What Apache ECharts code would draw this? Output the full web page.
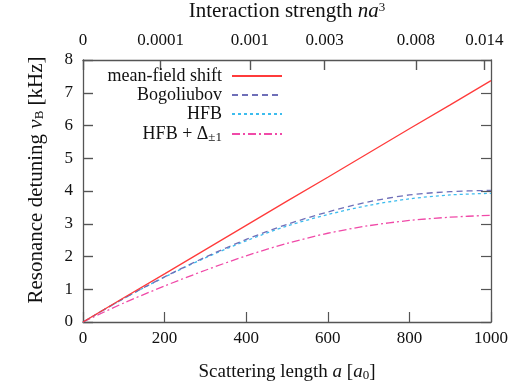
<!DOCTYPE html>
<html>
<head>
<meta charset="utf-8">
<script src="https://cdn.jsdelivr.net/npm/echarts@6/dist/echarts.min.js"></script>
<style>
  html, body { margin: 0; padding: 0; background: #fff; }
  #main { width: 522px; height: 382px; }
</style>
</head>
<body>
<div id="main"></div>
<script>
// scattering length a [a0]
const scatLen = [0, 100, 200, 300, 400, 500, 600, 700, 800, 900, 1000];
const meanField = [0, 0.74, 1.47, 2.21, 2.95, 3.69, 4.42, 5.16, 5.90, 6.63, 7.37];
const bogoliubov = [0, 0.72, 1.38, 1.98, 2.52, 2.98, 3.36, 3.67, 3.88, 3.98, 4.02];
const hfb = [0, 0.72, 1.37, 1.96, 2.48, 2.93, 3.28, 3.56, 3.76, 3.88, 3.93];
const hfbDelta = [0, 0.58, 1.10, 1.58, 2.02, 2.40, 2.71, 2.94, 3.10, 3.20, 3.26];

// top axis: positions (in a) of the na^3 labels
const topTickPos = [0, 190, 409, 592, 816, 984];
const topTickLabels = ['0', '0.0001', '0.001', '0.003', '0.008', '0.014'];

const names = ['mean-field shift', 'Bogoliubov', 'HFB', 'HFB + Δ±1'];
const colors = ['#ff3b3b', '#6f6fb8', '#3cbcee', '#f04aa8'];
const dashes = ['solid', [6, 4], [3, 3], [8, 3, 2, 3]];
const values = [meanField, bogoliubov, hfb, hfbDelta];

const FONT = 'Liberation Serif';
const FS = 17;
const axisColor = '#555';

let makeRich = function (size) {
    return {
        a: { fontFamily: FONT, fontSize: size, color: '#111' },
        i: { fontFamily: FONT, fontSize: size, fontStyle: 'italic', color: '#111' },
        s: { fontFamily: FONT, fontSize: 13, color: '#111', padding: [7, 0, 0, 0] },
        p: { fontFamily: FONT, fontSize: 13, color: '#111', padding: [0, 0, 8, 0] }
    };
};
let legendRich = {
    a: { fontFamily: FONT, fontSize: 18, color: '#111', padding: [0, 5, 0, 0] },
    b: { fontFamily: FONT, fontSize: 18, color: '#111' },
    s: { fontFamily: FONT, fontSize: 13, color: '#111', padding: [7, 5, 0, 0] }
};

let chart = echarts.init(document.getElementById('main'));

let series = [];
for (let k = 0; k < values.length; k++) {
    let pts = [];
    for (let j = 0; j < scatLen.length; j++) {
        pts.push([scatLen[j], values[k][j]]);
    }
    series.push({
        name: names[k],
        type: 'line',
        data: pts,
        smooth: k === 0 ? false : 0.3,
        symbol: 'none',
        lineStyle: { color: colors[k], width: 1.3, type: dashes[k] },
        itemStyle: { color: colors[k] },
        z: 10 - k
    });
}

// one legend per entry so the line samples line up on the right
let legendTops = [67, 86, 105, 125];
let legends = [];
for (let k = 0; k < names.length; k++) {
    legends.push({
        data: [names[k]],
        right: 239,
        top: legendTops[k],
        align: 'right',
        orient: 'vertical',
        itemWidth: 50,
        itemHeight: 14,
        padding: 0,
        selectedMode: false,
        itemStyle: { opacity: 0 },
        formatter: function (n) {
            if (n === 'HFB + Δ±1') return '{b|HFB + Δ}{s|±1}';
            return '{a|' + n + '}';
        },
        textStyle: { rich: legendRich }
    });
}

let plainNum = function (v) { return String(v); };
// fresh objects per axis
let tickStyle = function () {
    return { show: true, inside: true, length: 10, lineStyle: { color: axisColor, width: 1.2 } };
};
let lineStyle = function () {
    return { show: true, onZero: false, lineStyle: { color: axisColor, width: 1.3 } };
};

let topTick = tickStyle();
topTick.customValues = topTickPos;
let topTick2 = tickStyle();
topTick2.customValues = topTickPos;

let rect = { left: 83, right: 31, top: 60, bottom: 60, outerBoundsMode: 'none' };

chart.setOption({
    animation: false,
    backgroundColor: '#fff',
    grid: [Object.assign({}, rect), Object.assign({}, rect)],
    legend: legends,
    xAxis: [
        {
            type: 'value',
            gridIndex: 0,
            position: 'bottom',
            min: 0,
            max: 1000,
            interval: 200,
            name: '{a|Scattering length }{i|a}{a| [}{i|a}{s|0}{a|]}',
            nameLocation: 'middle',
            nameGap: 40,
            nameTextStyle: { rich: makeRich(19) },
            axisLine: lineStyle(),
            axisTick: tickStyle(),
            axisLabel: { fontFamily: FONT, fontSize: FS, color: '#111', margin: 8, formatter: plainNum },
            splitLine: { show: false }
        },
        {
            type: 'value',
            gridIndex: 0,
            position: 'top',
            min: 0,
            max: 1000,
            name: '{a|Interaction strength }{i|na}{p|3}',
            nameLocation: 'middle',
            nameGap: 38,
            nameTextStyle: { rich: makeRich(21) },
            axisLine: lineStyle(),
            axisTick: topTick,
            axisLabel: {
                fontFamily: FONT, fontSize: FS, color: '#111', margin: 11,
                customValues: topTickPos,
                formatter: function (v) {
                    let idx = topTickPos.indexOf(v);
                    return idx >= 0 ? topTickLabels[idx] : '';
                }
            },
            splitLine: { show: false }
        },
        // overlay grid: ticks only
        {
            type: 'value',
            gridIndex: 1,
            position: 'top',
            min: 0,
            max: 1000,
            axisLine: { show: false, onZero: false },
            axisTick: topTick2,
            axisLabel: { show: false },
            splitLine: { show: false }
        }
    ],
    yAxis: [
        {
            type: 'value',
            gridIndex: 0,
            position: 'left',
            min: 0,
            max: 8,
            interval: 1,
            name: '{a|Resonance detuning }{i|ν}{s|B}{a| [kHz]}',
            nameLocation: 'middle',
            nameGap: 36,
            nameTextStyle: { rich: makeRich(21), padding: [0, 0, 0, 22] },
            axisLine: lineStyle(),
            axisTick: tickStyle(),
            axisLabel: { fontFamily: FONT, fontSize: FS, color: '#111', margin: 10 },
            splitLine: { show: false }
        },
        {
            type: 'value',
            gridIndex: 0,
            position: 'right',
            min: 0,
            max: 8,
            interval: 1,
            axisLine: lineStyle(),
            axisTick: tickStyle(),
            axisLabel: { show: false },
            splitLine: { show: false }
        },
        // overlay grid: left ticks only
        {
            type: 'value',
            gridIndex: 1,
            position: 'left',
            min: 0,
            max: 8,
            interval: 1,
            axisLine: { show: false, onZero: false },
            axisTick: tickStyle(),
            axisLabel: { show: false },
            splitLine: { show: false }
        }
    ],
    series: series
});
</script>
</body>
</html>
